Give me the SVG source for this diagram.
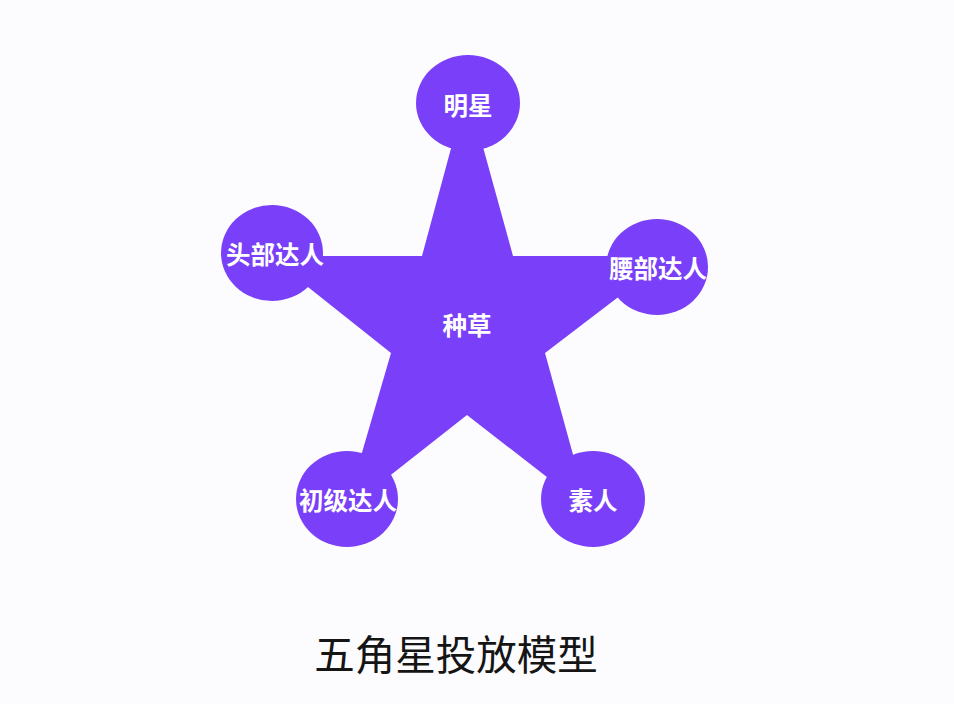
<svg xmlns="http://www.w3.org/2000/svg" width="954" height="704" viewBox="0 0 954 704">
  <style>
    .shape { fill: #7A3FF8; }
    .lbl { font-family: "Noto Sans CJK SC", "Noto Sans", sans-serif; font-size: 24.5px; font-weight: 700; fill: #FFFFFF; text-anchor: middle; dominant-baseline: central; }
    .title { font-family: "Noto Sans CJK SC", "Noto Sans", sans-serif; font-size: 40.5px; font-weight: 400; fill: #151515; text-anchor: middle; dominant-baseline: central; }
  </style>
  <rect width="954" height="704" fill="#FCFBFD"/>
  <g id="star">
    <polygon class="shape" points="467,89 513,256 672,256 545,353 588,509 467,415 345,511 391,353 269,256 422,256"/>
    <text class="lbl" x="467" y="324">种草</text>
  </g>
  <g id="connectors"></g>
  <g id="node-mingxing">
    <ellipse class="shape" cx="468" cy="103" rx="52" ry="48"/>
    <text class="lbl" x="468" y="104">明星</text>
  </g>
  <g id="node-toubu">
    <ellipse class="shape" cx="272" cy="253" rx="51" ry="48"/>
    <text class="lbl" x="275" y="253">头部达人</text>
  </g>
  <g id="node-yaobu">
    <ellipse class="shape" cx="657" cy="267" rx="51" ry="48"/>
    <text class="lbl" x="658" y="267">腰部达人</text>
  </g>
  <g id="node-chuji">
    <ellipse class="shape" cx="347" cy="499" rx="51" ry="48"/>
    <text class="lbl" x="348" y="499">初级达人</text>
  </g>
  <g id="node-suren">
    <ellipse class="shape" cx="593" cy="499" rx="52" ry="48"/>
    <text class="lbl" x="593" y="499">素人</text>
  </g>
  <g id="title">
    <text class="title" x="456" y="652">五角星投放模型</text>
  </g>
</svg>
